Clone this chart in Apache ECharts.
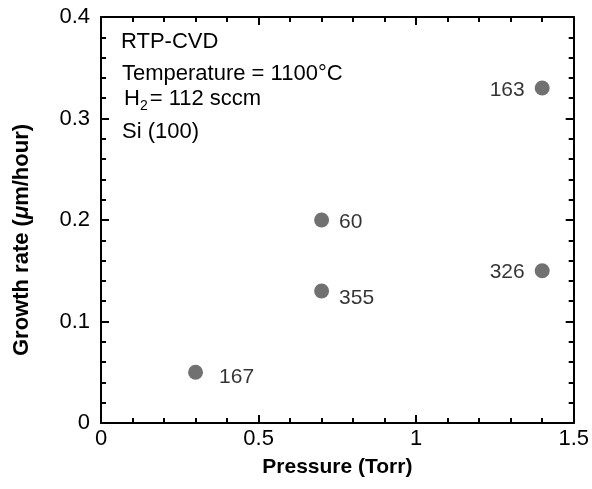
<!DOCTYPE html>
<html><head><meta charset="utf-8">
<script src="https://cdn.jsdelivr.net/npm/echarts@6/dist/echarts.min.js"></script>
<style>html,body{margin:0;padding:0;background:#fff}#c{width:592px;height:489px}</style>
</head><body><div id="c"></div>
<script>
const pressure = [0.3, 0.7, 0.7, 1.4, 1.4];
const growthRate = [0.05, 0.2, 0.13, 0.33, 0.15];
const pointLabels = ['167', '60', '355', '163', '326'];
const labelSide = ['right', 'right', 'right', 'left', 'left'];
const notes = ['RTP-CVD', 'Temperature = 1100\u00B0C', 'H2 = 112 sccm', 'Si (100)'];
// label nudges (style only, not data)
const labelNudge = [[6, 5], [0, 2], [0, 7], [0, 2], [0, 1]];

const font = 'Liberation Sans, Arial, sans-serif';
const chart = echarts.init(document.getElementById('c'));
const axisLine = {show: true, onZero: false, lineStyle: {color: '#000', width: 2}};
const tick = {show: true, inside: true, length: 8, lineStyle: {width: 2, color: '#000'}};
const minor = {show: true, splitNumber: 5, length: 5, lineStyle: {width: 2, color: '#000'}};
const fmt = v => String(v);

const data = pressure.map((p, i) => ({
  value: [p, growthRate[i]],
  label: {show: true, formatter: pointLabels[i], position: labelSide[i], offset: labelNudge[i]}
}));

chart.setOption({
  animation: false,
  grid: {left: 101, right: 18, top: 17, bottom: 66, containLabel: false},
  xAxis: [{
    type: 'value', min: 0, max: 1.5, interval: 0.5, position: 'bottom',
    name: 'Pressure (Torr)', nameLocation: 'middle', nameGap: 34,
    nameTextStyle: {fontFamily: font, fontSize: 21, fontWeight: 'bold', color: '#000'},
    axisLine, splitLine: {show: false}, axisTick: tick, minorTick: minor,
    axisLabel: {fontFamily: font, fontSize: 22, color: '#000', margin: 5, formatter: fmt}
  }, {
    type: 'value', min: 0, max: 1.5, interval: 0.5, position: 'top',
    axisLine, splitLine: {show: false}, axisLabel: {show: false},
    axisTick: tick, minorTick: minor
  }],
  yAxis: [{
    type: 'value', min: 0, max: 0.4, interval: 0.1, position: 'left',
    name: '{b|Growth rate (}{i|\u03BC}{b|m/hour)}', nameLocation: 'middle', nameGap: 68,
    nameTextStyle: {padding: [0, 40, 0, 0], rich: {
      b: {fontFamily: font, fontSize: 22, fontWeight: 'bold', color: '#000'},
      i: {fontFamily: font, fontSize: 22, fontWeight: 'bold', fontStyle: 'italic', color: '#000'}
    }},
    axisLine, splitLine: {show: false}, axisTick: tick, minorTick: minor,
    axisLabel: {fontFamily: font, fontSize: 22, color: '#000', margin: 11, formatter: fmt}
  }, {
    type: 'value', min: 0, max: 0.4, interval: 0.1, position: 'right',
    axisLine, splitLine: {show: false}, axisLabel: {show: false},
    axisTick: tick, minorTick: minor
  }],
  graphic: [
    {type: 'text', left: 121, top: 31, style: {text: notes[0], font: '22px ' + font, fill: '#000'}},
    {type: 'text', left: 122, top: 63, style: {text: notes[1], font: '22px ' + font, fill: '#000'}},
    {type: 'text', left: 124, top: 88, style: {
      text: '{n|H}{s|2}{n|= 112 sccm}',
      rich: {n: {fontFamily: font, fontSize: 22, color: '#000'},
             s: {fontFamily: font, fontSize: 14, color: '#000', padding: [14, 2, 0, 0]}}
    }},
    {type: 'text', left: 122, top: 121, style: {text: notes[3], font: '22px ' + font, fill: '#000'}}
  ],
  series: [{
    type: 'scatter', xAxisIndex: 0, yAxisIndex: 0, symbol: 'circle', symbolSize: 15,
    itemStyle: {color: '#4d4d4d'},
    label: {fontFamily: font, fontSize: 21, color: '#000', distance: 10},
    data
  }]
});
</script></body></html>
